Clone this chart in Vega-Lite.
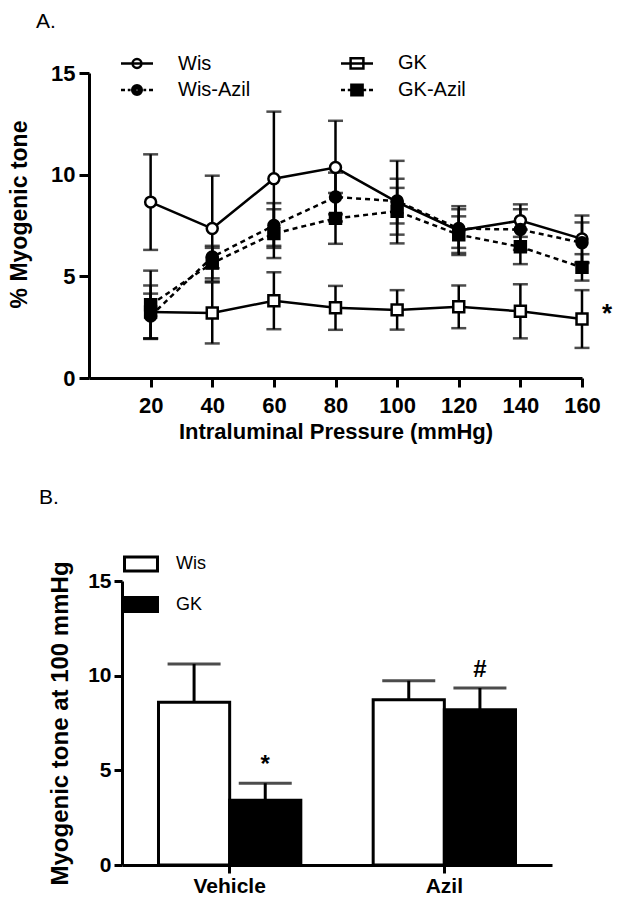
{
  "$schema": "https://vega.github.io/schema/vega-lite/v6.json",
  "background": "white",
  "padding": {"left": 8, "top": 11, "right": 4, "bottom": 4},
  "spacing": 44,
  "config": {
    "view": {"stroke": null},
    "font": "Liberation Sans",
    "axis": {"domainColor": "black", "domainWidth": 3, "tickColor": "black", "tickWidth": 3, "labelColor": "black", "titleColor": "black", "labelFont": "Liberation Sans", "titleFont": "Liberation Sans", "labelFontWeight": "bold", "titleFontWeight": "bold", "grid": false, "labelOverlap": false, "labelFlush": false},
    "title": {"font": "Liberation Sans", "fontWeight": "normal", "color": "black", "baseline": "alphabetic", "anchor": "start", "frame": "group"},
    "legend": {"labelFont": "Liberation Sans", "labelColor": "black", "padding": 0, "title": null}
  },
  "vconcat": [
    {
      "width": 493,
      "height": 305,
      "title": {"text": "A.", "fontSize": 21, "offset": 21, "dx": -53},
      "data": {"values": [
        {"group": "Wis", "pressure": 20, "tone": 8.65, "sem": 2.35},
        {"group": "Wis", "pressure": 40, "tone": 7.35, "sem": 2.6},
        {"group": "Wis", "pressure": 60, "tone": 9.8, "sem": 3.3},
        {"group": "Wis", "pressure": 80, "tone": 10.35, "sem": 2.3},
        {"group": "Wis", "pressure": 100, "tone": 8.65, "sem": 2.03},
        {"group": "Wis", "pressure": 120, "tone": 7.25, "sem": 1.2},
        {"group": "Wis", "pressure": 140, "tone": 7.74, "sem": 0.8},
        {"group": "Wis", "pressure": 160, "tone": 6.84, "sem": 1.15},
        {"group": "GK", "pressure": 20, "tone": 3.25, "sem": 1.3},
        {"group": "GK", "pressure": 40, "tone": 3.2, "sem": 1.5},
        {"group": "GK", "pressure": 60, "tone": 3.8, "sem": 1.4},
        {"group": "GK", "pressure": 80, "tone": 3.45, "sem": 1.08},
        {"group": "GK", "pressure": 100, "tone": 3.35, "sem": 0.97},
        {"group": "GK", "pressure": 120, "tone": 3.5, "sem": 1.05},
        {"group": "GK", "pressure": 140, "tone": 3.28, "sem": 1.33},
        {"group": "GK", "pressure": 160, "tone": 2.9, "sem": 1.42},
        {"group": "Wis-Azil", "pressure": 20, "tone": 3.05, "sem": 1.1},
        {"group": "Wis-Azil", "pressure": 40, "tone": 5.95, "sem": 0.55},
        {"group": "Wis-Azil", "pressure": 60, "tone": 7.5, "sem": 1.1},
        {"group": "Wis-Azil", "pressure": 80, "tone": 8.9, "sem": 1.2},
        {"group": "Wis-Azil", "pressure": 100, "tone": 8.7, "sem": 1.1},
        {"group": "Wis-Azil", "pressure": 120, "tone": 7.35, "sem": 0.95},
        {"group": "Wis-Azil", "pressure": 140, "tone": 7.3, "sem": 1.0},
        {"group": "Wis-Azil", "pressure": 160, "tone": 6.65, "sem": 1.0},
        {"group": "GK-Azil", "pressure": 20, "tone": 3.6, "sem": 1.68},
        {"group": "GK-Azil", "pressure": 40, "tone": 5.65, "sem": 0.75},
        {"group": "GK-Azil", "pressure": 60, "tone": 7.1, "sem": 1.2},
        {"group": "GK-Azil", "pressure": 80, "tone": 7.85, "sem": 1.25},
        {"group": "GK-Azil", "pressure": 100, "tone": 8.2, "sem": 1.15},
        {"group": "GK-Azil", "pressure": 120, "tone": 7.05, "sem": 0.9},
        {"group": "GK-Azil", "pressure": 140, "tone": 6.45, "sem": 0.85},
        {"group": "GK-Azil", "pressure": 160, "tone": 5.44, "sem": 0.65}
      ]},
      "encoding": {
        "x": {"field": "pressure", "type": "quantitative", "scale": {"domain": [0, 160], "nice": false},
          "axis": {"title": "Intraluminal Pressure (mmHg)", "values": [20, 40, 60, 80, 100, 120, 140, 160], "tickSize": 9, "labelPadding": 8, "labelFontSize": 22, "titleFontSize": 22, "titlePadding": 5}},
        "y": {"field": "tone", "type": "quantitative", "scale": {"domain": [0, 15], "nice": false},
          "axis": {"title": "% Myogenic tone", "values": [0, 5, 10, 15], "tickSize": 10, "labelPadding": 4, "labelFontSize": 22, "titleFontSize": 23, "titlePadding": 19, "titleY": 141}}
      },
      "resolve": {"scale": {"shape": "independent"}, "legend": {"shape": "independent"}},
      "layer": [
        {
          "mark": {"type": "errorbar", "ticks": {"size": 15}, "thickness": 2.5, "color": "black"},
          "encoding": {"yError": {"field": "sem"}}
        },
        {
          "transform": [{"filter": "datum.group === 'Wis' || datum.group === 'GK'"}],
          "mark": {"type": "line", "strokeWidth": 2.5, "color": "black"},
          "encoding": {"detail": {"field": "group", "type": "nominal"}}
        },
        {
          "transform": [{"filter": "datum.group === 'Wis-Azil' || datum.group === 'GK-Azil'"}],
          "mark": {"type": "line", "strokeWidth": 2.5, "color": "black", "strokeDash": [5, 4]},
          "encoding": {"detail": {"field": "group", "type": "nominal"}}
        },
        {
          "transform": [{"filter": "datum.group === 'Wis' || datum.group === 'GK'"}],
          "mark": {"type": "point", "filled": true, "fill": "white", "size": 120, "stroke": "black", "strokeWidth": 2.5, "opacity": 1},
          "encoding": {
            "shape": {"field": "group", "type": "nominal", "scale": {"domain": ["Wis", "Wis-Azil", "GK", "GK-Azil"], "range": ["circle", "circle", "square", "square"]}, "legend": null}
          }
        },
        {
          "transform": [{"filter": "datum.group === 'Wis-Azil' || datum.group === 'GK-Azil'"}],
          "mark": {"type": "point", "filled": true, "fill": "black", "size": 120, "stroke": "black", "strokeWidth": 2.5, "opacity": 1},
          "encoding": {
            "shape": {"field": "group", "type": "nominal", "scale": {"domain": ["Wis", "Wis-Azil", "GK", "GK-Azil"], "range": ["circle", "circle", "square", "square"]}, "legend": null}
          }
        },
        {
          "transform": [{"filter": "false"}],
          "mark": {"type": "point", "filled": false, "color": "black", "strokeWidth": 2.5, "opacity": 1},
          "encoding": {
            "shape": {"field": "group", "type": "nominal",
              "scale": {"domain": ["Wis", "Wis-Azil", "GK", "GK-Azil"], "range": [
                "M-2,0H2M0.55,0A0.55,0.55,0,1,1,-0.55,0A0.55,0.55,0,1,1,0.55,0Z",
                "M-2,0H-1.5M-1.15,0H-0.8M0.8,0H1.15M1.5,0H2M0.6,0A0.6,0.6,0,1,1,-0.6,0A0.6,0.6,0,1,1,0.6,0ZM0.3,0A0.3,0.3,0,1,1,-0.3,0A0.3,0.3,0,1,1,0.3,0ZM0.08,0A0.08,0.08,0,1,1,-0.08,0A0.08,0.08,0,1,1,0.08,0Z",
                "M-2,0H2M-0.8,-0.65H0.8V0.65H-0.8Z",
                "M-2,0H-1.5M-1.15,0H-0.85M0.85,0H1.15M1.5,0H2M-0.7,-0.65H0.7V0.65H-0.7ZM-0.4,-0.35H0.4V0.35H-0.4ZM-0.1,-0.08H0.1V0.08H-0.1Z"]},
              "legend": {"orient": "none", "legendX": 38, "legendY": -20, "columns": 2, "symbolSize": 256, "symbolOpacity": 1, "labelFontSize": 20, "labelOffset": 31, "columnPadding": 85, "rowPadding": 5, "symbolStrokeWidth": 2.5, "symbolStrokeColor": "black", "symbolFillColor": "transparent"}}
          }
        },
        {
          "data": {"values": [{"pressure": 160, "tone": 2.9, "label": "*"}]},
          "mark": {"type": "text", "fontSize": 26, "fontWeight": "bold", "dx": 25, "dy": 3, "baseline": "alphabetic", "align": "center", "color": "black"},
          "encoding": {"text": {"field": "label"}}
        }
      ]
    },
    {
      "width": 463,
      "height": 284,
      "title": {"text": "B.", "fontSize": 21, "offset": 53, "dx": -50},
      "data": {"values": [
        {"treatment": "Vehicle", "group": "Wis", "tone": 8.59, "top": 10.62, "sig": ""},
        {"treatment": "Vehicle", "group": "GK", "tone": 3.42, "top": 4.32, "sig": "*"},
        {"treatment": "Azil", "group": "Wis", "tone": 8.73, "top": 9.73, "sig": ""},
        {"treatment": "Azil", "group": "GK", "tone": 8.2, "top": 9.35, "sig": "#"}
      ]},
      "encoding": {
        "x": {"field": "treatment", "type": "nominal", "sort": ["Vehicle", "Azil"], "scale": {"range": [33, 463], "paddingInner": 0.337, "paddingOuter": 0.17},
          "axis": {"title": null, "tickSize": 8, "labelPadding": 2, "labelFontSize": 21, "labelAngle": 0, "bandPosition": 0.5}},
        "xOffset": {"field": "group", "type": "nominal", "sort": ["Wis", "GK"], "scale": {"paddingInner": 0, "paddingOuter": 0}}
      },
      "layer": [
        {
          "mark": {"type": "bar", "stroke": "black", "strokeWidth": 3},
          "encoding": {
            "y": {"field": "tone", "type": "quantitative", "scale": {"domain": [0, 15], "nice": false},
              "axis": {"title": "Myogenic tone at 100 mmHg", "values": [0, 5, 10, 15], "tickSize": 8, "labelPadding": 3, "labelFontSize": 21, "titleFontSize": 24, "titlePadding": 15, "offset": -33}},
            "fill": {"field": "group", "type": "nominal", "scale": {"domain": ["Wis", "GK"], "range": ["white", "black"]},
              "legend": {"orient": "none", "legendX": 42, "legendY": 481, "symbolType": "M-2,-0.85H2V0.85H-2Z", "symbolSize": 272, "labelFontSize": 18, "labelOffset": 25, "rowPadding": 12.5, "symbolStrokeColor": "black", "symbolStrokeWidth": 3, "symbolOpacity": 1}}
          }
        },
        {
          "mark": {"type": "rule", "strokeWidth": 3, "color": "black"},
          "encoding": {"y": {"field": "tone", "type": "quantitative", "title": "Myogenic tone at 100 mmHg"}, "y2": {"field": "top"}}
        },
        {
          "mark": {"type": "tick", "orient": "horizontal", "size": 53, "thickness": 3, "color": "black"},
          "encoding": {"y": {"field": "top", "type": "quantitative", "title": "Myogenic tone at 100 mmHg"}}
        },
        {
          "mark": {"type": "text", "fontSize": 24, "fontWeight": "bold", "dy": -11, "baseline": "alphabetic", "align": "center", "color": "black"},
          "encoding": {"y": {"field": "top", "type": "quantitative", "title": "Myogenic tone at 100 mmHg"}, "text": {"field": "sig"}}
        }
      ]
    }
  ]
}
